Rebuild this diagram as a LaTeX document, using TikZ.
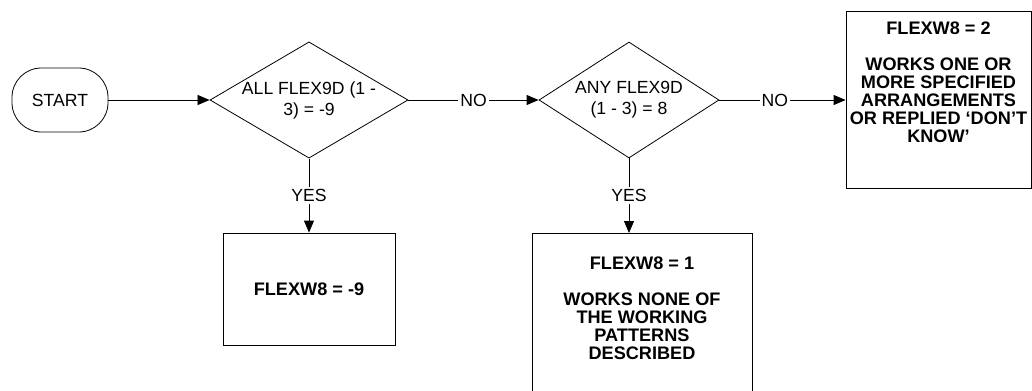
\documentclass[tikz,border=0pt]{standalone}
\usepackage{fontspec}
\setmainfont{Liberation Sans}
\usetikzlibrary{shapes.geometric,arrows.meta}

\begin{document}
\begin{tikzpicture}[x=0.75pt, y=-0.75pt,
  term/.style={draw, rounded corners=22pt, minimum width=72pt, minimum height=48pt,
               font=\fontsize{13.2}{15.75}\selectfont},
  q/.style={draw, diamond, inner sep=0pt, align=center, minimum height=87pt,
            font=\fontsize{13.2}{15.75}\selectfont},
  res/.style={draw, inner sep=0pt, align=center, font=\bfseries\fontsize{13.6}{13.5}\selectfont},
  arr/.style={-{Triangle[length=9pt,width=7.5pt]}},
  lbl/.style={font=\fontsize{13.2}{15}\selectfont, fill=white, inner sep=1.5pt},
  line width=0.6pt
]
  \clip (0,0) rectangle (1032,390);

  \node[term] (start) at (60,100) {START};
  \node[q, minimum width=148.5pt, aspect=1.7] (q1) at (309,100) {ALL FLEX9D (1 -\\3) = -9};
  \node[q, minimum width=135pt, aspect=1.55] (q2) at (629,100) {ANY FLEX9D\\(1 - 3) = 8};
  \node[res, minimum width=129pt, minimum height=84pt] (s1) at (309,289) {FLEXW8 = -9};
  \node[res, minimum width=165pt, text height=94.5pt, text depth=30.75pt, anchor=north] (s2) at (642,233)
    {FLEXW8 = 1\\[13.5pt]WORKS NONE OF\\THE WORKING\\PATTERNS\\DESCRIBED};
  \node[res, minimum width=138.75pt, text height=98.25pt, text depth=34.5pt, anchor=north] (s3) at (938.5,11)
    {FLEXW8 = 2\\[13.5pt]WORKS ONE OR\\MORE SPECIFIED\\ARRANGEMENTS\\OR REPLIED ‘DON’T\\KNOW’};

  \draw[arr] (start) -- (q1);
  \draw[arr] (q1) -- node[lbl] {NO} (q2);
  \draw[arr] (q2.east) -- node[lbl, pos=0.44] {NO} (q2.east -| s3.west);
  \draw[arr] (q1.south) -- node[lbl] {YES} (s1.north);
  \draw[arr] (q2.south) -- node[lbl] {YES} (q2.south |- s2.north);
\end{tikzpicture}
\end{document}
